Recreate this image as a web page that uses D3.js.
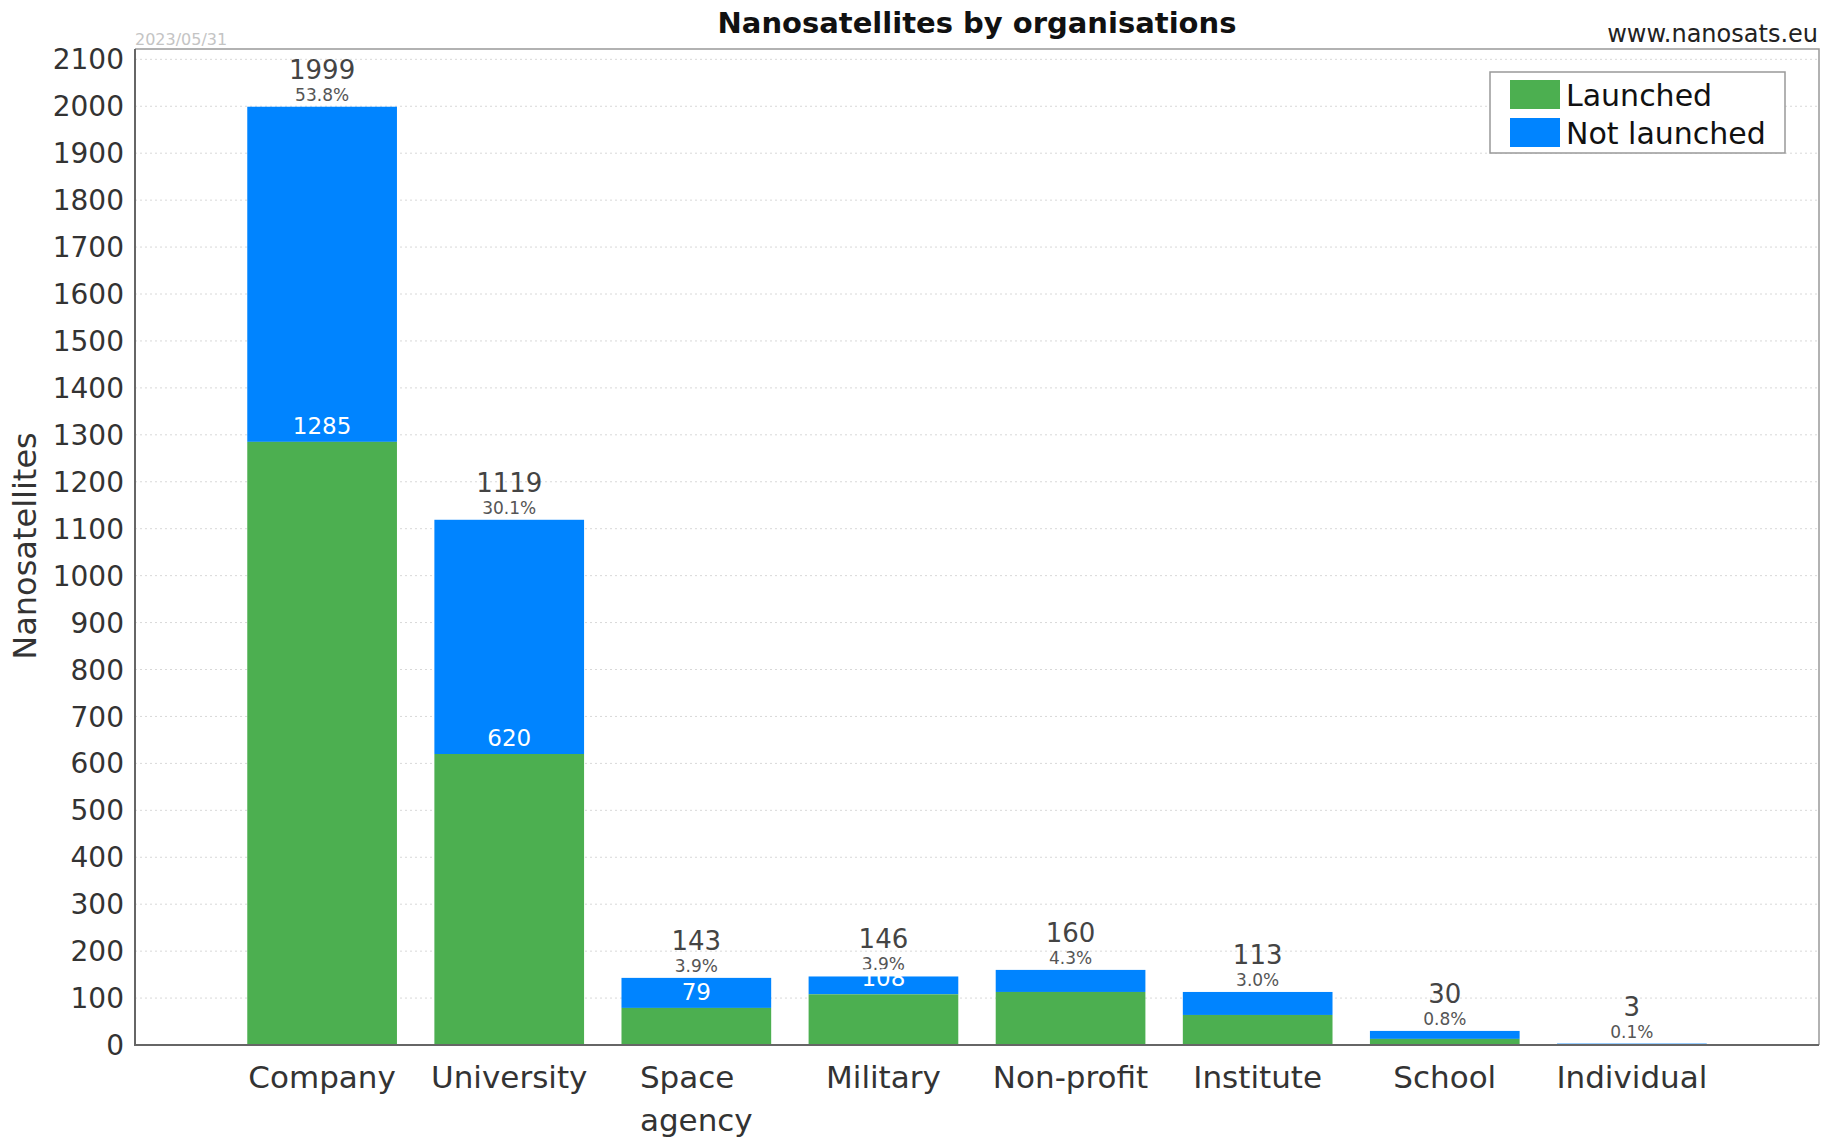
<!DOCTYPE html>
<html>
<head>
<meta charset="utf-8">
<script src="https://cdn.jsdelivr.net/npm/d3@7"></script>
<style>
  body { margin: 0; background: #fff; }
  text { font-family: "DejaVu Sans", sans-serif; }
</style>
</head>
<body>
<div id="chart"></div>
<script>
// DATA
var categories = ['Company', 'University', 'Space agency', 'Military', 'Non-profit', 'Institute', 'School', 'Individual'];
var totals = [1999, 1119, 143, 146, 160, 113, 30, 3];
var launched = [1285, 620, 79, 108, 113, 64, 13, 1];
var launchedLabelShown = ['Company', 'University', 'Space agency', 'Military'];
var yTicks = [0, 100, 200, 300, 400, 500, 600, 700, 800, 900, 1000, 1100, 1200, 1300, 1400, 1500, 1600, 1700, 1800, 1900, 2000, 2100];
var legendItems = ['Launched', 'Not launched'];

var GREEN = '#4caf50', BLUE = '#0084ff';

var W = 1831, H = 1138;
var plotLeft = 135, plotRight = 1819, plotTop = 49, plotBottom = 1045;

var svg = d3.select('#chart').append('svg').attr('width', W).attr('height', H);

var grandTotal = d3.sum(totals);

// scales
var x = d3.scaleLinear().domain([0, categories.length + 1]).range([plotLeft, plotRight]);
var y = d3.scaleLinear().domain([0, 2122]).range([plotBottom, plotTop]);
var step = x(1) - x(0);
var bw = step * 0.8;

// grid
svg.append('g').selectAll('line').data(yTicks.filter(function(d) { return d > 0; }))
  .enter().append('line')
  .attr('x1', plotLeft).attr('x2', plotRight)
  .attr('y1', function(d) { return y(d); }).attr('y2', function(d) { return y(d); })
  .style('stroke', '#d8d8d8').style('stroke-dasharray', '2,3').style('stroke-width', 1);

// frame top/right
svg.append('path')
  .attr('d', 'M' + plotLeft + ',' + plotTop + 'H' + plotRight + 'V' + plotBottom)
  .style('fill', 'none').style('stroke', '#999').style('stroke-width', 1.5);

// bars
var bars = svg.append('g');
categories.forEach(function(c, i) {
  var cx = x(i + 1);
  bars.append('rect')
    .attr('x', cx - bw / 2).attr('width', bw)
    .attr('y', y(totals[i])).attr('height', y(launched[i]) - y(totals[i]))
    .style('fill', BLUE);
  bars.append('rect')
    .attr('x', cx - bw / 2).attr('width', bw)
    .attr('y', y(launched[i])).attr('height', y(0) - y(launched[i]))
    .style('fill', GREEN);

  // total + percent
  svg.append('text')
    .attr('x', cx).attr('y', y(totals[i]) - 28)
    .attr('text-anchor', 'middle')
    .style('font-size', '26px').style('fill', '#444')
    .text(totals[i]);
  svg.append('text')
    .attr('x', cx).attr('y', y(totals[i]) - 6)
    .attr('text-anchor', 'middle')
    .style('font-size', '17px').style('fill', '#555')
    .text((totals[i] / grandTotal * 100).toFixed(1) + '%');

  if (launchedLabelShown.indexOf(c) >= 0) {
    svg.append('text')
      .attr('x', cx).attr('y', y(launched[i]) - 8)
      .attr('text-anchor', 'middle')
      .style('font-size', '23px').style('fill', '#fff')
      .text(launched[i]);
  }

  // category label, wrapped on spaces, lines left aligned in a centered block
  var words = c.split(' ');
  var g = svg.append('g');
  var lines = words.map(function(w, k) {
    return g.append('text')
      .attr('y', 1088 + k * 43)
      .style('font-size', '31px').style('fill', '#333')
      .text(w);
  });
  var maxW = d3.max(lines, function(t) { return t.node().getComputedTextLength(); });
  lines.forEach(function(t) { t.attr('x', cx - maxW / 2); });
});

// axes lines (left, bottom)
svg.append('path')
  .attr('d', 'M' + plotLeft + ',' + plotTop + 'V' + plotBottom + 'H' + plotRight)
  .style('fill', 'none').style('stroke', '#666').style('stroke-width', 2);

// y tick labels
svg.append('g').selectAll('text').data(yTicks).enter().append('text')
  .attr('x', plotLeft - 11).attr('y', function(d) { return y(d); })
  .attr('dy', '.36em')
  .attr('text-anchor', 'end')
  .style('font-size', '28px').style('fill', '#333')
  .text(function(d) { return d; });

// y label
svg.append('text')
  .attr('transform', 'translate(36,546) rotate(-90)')
  .attr('text-anchor', 'middle')
  .style('font-size', '32px').style('fill', '#333')
  .text('Nanosatellites');

// title
svg.append('text')
  .attr('x', (plotLeft + plotRight) / 2).attr('y', 33)
  .attr('text-anchor', 'middle')
  .style('font-size', '29px').style('font-weight', 'bold').style('fill', '#111')
  .text('Nanosatellites by organisations');

svg.append('text')
  .attr('x', plotLeft).attr('y', 45)
  .style('font-size', '16px').style('fill', '#c4c4c4')
  .text('2023/05/31');

svg.append('text')
  .attr('x', plotRight - 1).attr('y', 42)
  .attr('text-anchor', 'end')
  .style('font-size', '24px').style('fill', '#222')
  .text('www.nanosats.eu');

// legend
var lg = svg.append('g').attr('transform', 'translate(1490,72)');
lg.append('rect').attr('width', 295).attr('height', 81)
  .style('fill', '#fff').style('stroke', '#999').style('stroke-width', 1.5);
legendItems.forEach(function(name, i) {
  lg.append('rect').attr('x', 20).attr('y', 8 + i * 38).attr('width', 50).attr('height', 29)
    .style('fill', i === 0 ? GREEN : BLUE);
  lg.append('text').attr('x', 76).attr('y', 34 + i * 38)
    .style('font-size', '30px').style('fill', '#111')
    .text(name);
});
</script>
</body>
</html>
